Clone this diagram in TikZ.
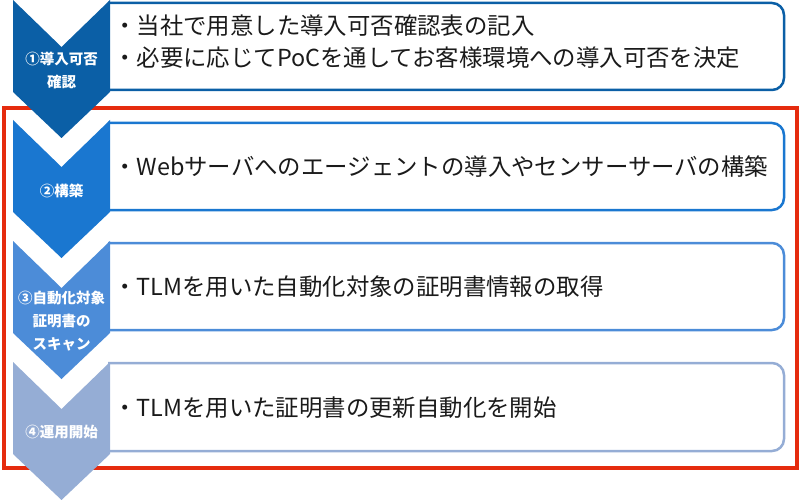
\documentclass[tikz,border=0pt]{standalone}
\usepackage{fontspec}
\setmainfont{Noto Sans CJK JP}
\definecolor{phaseA}{HTML}{0B5FA6}
\definecolor{phaseB}{HTML}{1A77D0}
\definecolor{phaseC}{HTML}{4C8CD8}
\definecolor{phaseD}{HTML}{95ADD5}
\definecolor{framered}{HTML}{E52B0E}
\definecolor{textblack}{HTML}{1A1A1A}
\tikzset{
  boxline/.style={line width=2.5pt, rounded corners=12pt},
  phaselabel/.style={text=white, font=\bfseries\fontsize{14.5}{23}\selectfont, align=center, inner sep=0pt},
  itemtext/.style={text=textblack, font=\fontsize{23.4}{32}\selectfont, align=left, anchor=west, inner sep=0pt}
}
\begin{document}
\begin{tikzpicture}[x=1pt,y=-1pt]
\useasboundingbox (0,0) rectangle (800,500);
\draw[framered, line width=3.5pt] (4,108) rectangle (797,468);

\draw[boxline, phaseA] (108,3) -- (784,3) -- (784,90) -- (108,90);
\draw[boxline, phaseB] (108,123) -- (784,123) -- (784,210) -- (108,210);
\draw[boxline, phaseC] (108,243) -- (784,243) -- (784,330) -- (108,330);
\draw[boxline, phaseD] (108,363) -- (784,363) -- (784,451) -- (108,451);

\fill[phaseA] (13,0) -- (61.5,47) -- (110,0) -- (110,92) -- (61.5,138) -- (13,92) -- cycle;
\fill[phaseB] (13,120) -- (61.5,167) -- (110,120) -- (110,212) -- (61.5,258) -- (13,212) -- cycle;
\fill[phaseC] (13,241) -- (61.5,288) -- (110,241) -- (110,333) -- (61.5,379) -- (13,333) -- cycle;
\fill[phaseD] (13,362) -- (61.5,409) -- (110,362) -- (110,454) -- (61.5,500) -- (13,454) -- cycle;

\node (L1) at (61.5,70) [phaselabel]{①導入可否\\確認};
\node (L2) at (61.5,191) [phaselabel]{②構築};
\node (L3) at (61.5,321.5) [phaselabel]{③自動化対象\\証明書の\\スキャン};
\node (L4) at (61.5,432) [phaselabel]{④運用開始};

\node (T1) at (113,42) [itemtext]{・当社で用意した導入可否確認表の記入\\・必要に応じてPoCを通してお客様環境への導入可否を決定};
\node (T2) at (113,167) [itemtext]{・Webサーバへのエージェントの導入やセンサーサーバの構築};
\node (T3) at (113,287) [itemtext]{・TLMを用いた自動化対象の証明書情報の取得};
\node (T4) at (113,408) [itemtext]{・TLMを用いた証明書の更新自動化を開始};
\end{tikzpicture}
\end{document}
